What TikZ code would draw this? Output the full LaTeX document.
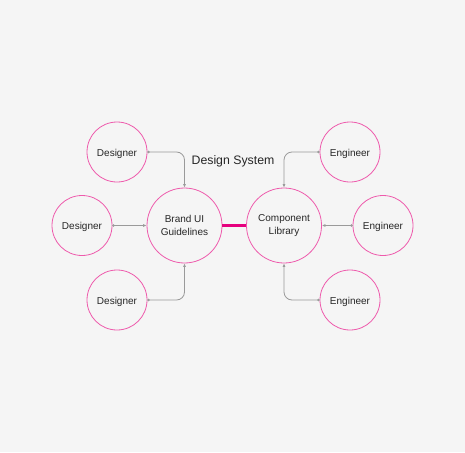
\documentclass[tikz,border=0pt]{standalone}
\usepackage{fontspec}
\setmainfont{Liberation Sans}
\usetikzlibrary{arrows.meta}
\definecolor{bgcol}{HTML}{F5F5F5}
\definecolor{ringpink}{HTML}{EE5AAC}
\definecolor{barpink}{HTML}{E6007E}
\definecolor{wiregray}{HTML}{9A9A9A}
\definecolor{inkgray}{HTML}{262626}
\newcommand{\lowtext}[1]{\raisebox{-1.5pt}[\height][\depth]{#1}}
\begin{document}
\begin{tikzpicture}[x=1pt,y=-1pt]
    % Define styles
    \tikzstyle{person} = [circle, draw=ringpink, line width=0.8pt, minimum size=60pt, inner sep=0pt,
                          text centered, text=inkgray, font=\fontsize{10}{12}\selectfont]
    \tikzstyle{hub} = [circle, draw=ringpink, line width=0.8pt, minimum size=75pt, inner sep=0pt,
                       align=center, text=inkgray, font=\fontsize{10}{13.5}\selectfont]
    \tikzstyle{wire} = [draw=wiregray, line width=0.8pt, rounded corners=8pt,
                        {Circle[length=2.2pt]}-{Latex[length=3.5pt,width=3pt]}]

    % Background
    \fill[bgcol] (0,0) rectangle (465,452);
    \useasboundingbox (0,0) rectangle (465,452);

    % Nodes positioned absolutely
    \node[hub] (brand) at (184.5,225.5) {Brand UI\\Guidelines};
    \node[hub] (comp) at (284,225.5) {Component\\Library};
    \node[person] (d1) at (117,152) {\lowtext{Designer}};
    \node[person] (d2) at (82,225.5) {\lowtext{Designer}};
    \node[person] (d3) at (117,300) {\lowtext{Designer}};
    \node[person] (e1) at (350,152) {\lowtext{Engineer}};
    \node[person] (e2) at (383,225.5) {\lowtext{Engineer}};
    \node[person] (e3) at (350,300) {\lowtext{Engineer}};

    % Connectors
    \draw[wire] (d1.east) -| (brand.north);
    \draw[wire] (d2.east) -- (brand.west);
    \draw[wire] (d3.east) -| (brand.south);
    \draw[wire] (e1.west) -| (comp.north);
    \draw[wire] (e2.west) -- (comp.east);
    \draw[wire] (e3.west) -| (comp.south);
    \draw[barpink, line width=3pt] (brand.east) -- (comp.west);

    % Title label
    \node[text=inkgray, font=\fontsize{12.3}{14}\selectfont] (title) at (233,161) {Design System};
\end{tikzpicture}
\end{document}
